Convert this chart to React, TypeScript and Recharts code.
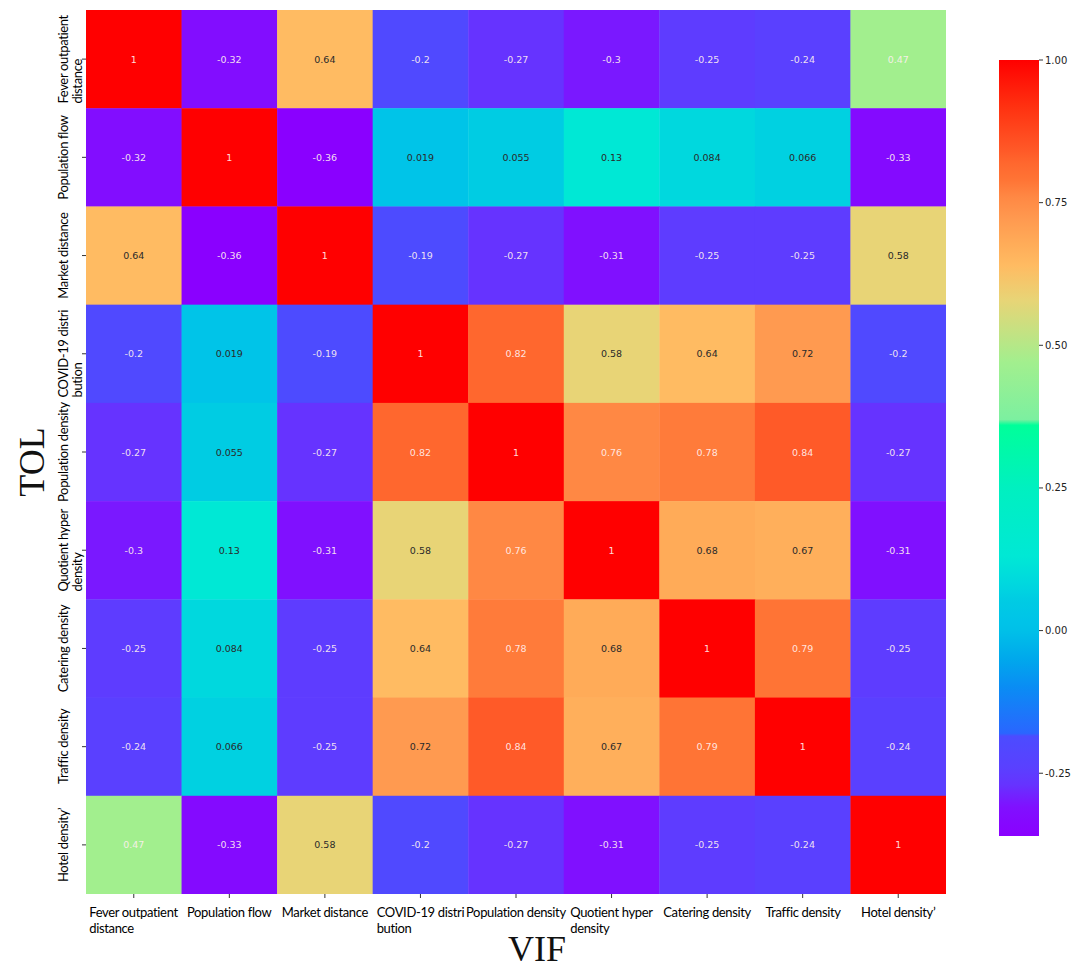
import React from 'react';
import { ScatterChart, Scatter, XAxis, YAxis, BarChart, Bar } from 'recharts';

// ---------- DATA ----------
const tickLines: string[][] = [
  ['Fever outpatient', 'distance'],
  ['Population flow'],
  ['Market distance'],
  ['COVID-19 distri', 'bution'],
  ['Population density'],
  ['Quotient hyper', 'density'],
  ['Catering density'],
  ['Traffic density'],
  ['Hotel density\u2019'],
];

const rowFever = [1, -0.32, 0.64, -0.2, -0.27, -0.3, -0.25, -0.24, 0.47];
const rowPopFlow = [-0.32, 1, -0.36, 0.019, 0.055, 0.13, 0.084, 0.066, -0.33];
const rowMarket = [0.64, -0.36, 1, -0.19, -0.27, -0.31, -0.25, -0.25, 0.58];
const rowCovid = [-0.2, 0.019, -0.19, 1, 0.82, 0.58, 0.64, 0.72, -0.2];
const rowPopDensity = [-0.27, 0.055, -0.27, 0.82, 1, 0.76, 0.78, 0.84, -0.27];
const rowQuotient = [-0.3, 0.13, -0.31, 0.58, 0.76, 1, 0.68, 0.67, -0.31];
const rowCatering = [-0.25, 0.084, -0.25, 0.64, 0.78, 0.68, 1, 0.79, -0.25];
const rowTraffic = [-0.24, 0.066, -0.25, 0.72, 0.84, 0.67, 0.79, 1, -0.24];
const rowHotel = [0.47, -0.33, 0.58, -0.2, -0.27, -0.31, -0.25, -0.24, 1];

const matrix = [rowFever, rowPopFlow, rowMarket, rowCovid, rowPopDensity, rowQuotient, rowCatering, rowTraffic, rowHotel];

const colorbarTicks = [1, 0.75, 0.5, 0.25, 0, -0.25];
const VMIN = -0.36;
const VMAX = 1;

// colormap stops (value, color)
const cmapStops: [number, string][] = [
  [-0.36, '#8a00ff'],
  [-0.31, '#8010ff'],
  [-0.3, '#7a18ff'],
  [-0.27, '#6633ff'],
  [-0.24, '#5a40ff'],
  [-0.185, '#4c4cff'],
  [-0.18, '#2a66ff'],
  [-0.1, '#0a8cf4'],
  [-0.05, '#00a8ec'],
  [0, '#00c0e8'],
  [0.019, '#00c4e8'],
  [0.055, '#00cce3'],
  [0.075, '#00d5e0'],
  [0.13, '#00e8d5'],
  [0.25, '#00f0c0'],
  [0.36, '#00ff9a'],
  [0.37, '#7cf0a0'],
  [0.47, '#a2ef8e'],
  [0.58, '#e8d476'],
  [0.64, '#ffbb62'],
  [0.68, '#ffab58'],
  [0.72, '#ff9a50'],
  [0.76, '#ff8844'],
  [0.79, '#ff7435'],
  [0.82, '#ff672e'],
  [0.84, '#ff5a28'],
  [0.92, '#ff3010'],
  [1, '#ff0000'],
];

// ---------- LAYOUT ----------
const N = tickLines.length;
const MAIN_W = 960;
const MAIN_H = 969;
const Y_AXIS_W = 80;
const X_AXIS_H = 75;
const MARGIN = { top: 10, right: 14, bottom: 0, left: 6 };
const PLOT_W = MAIN_W - MARGIN.left - MARGIN.right - Y_AXIS_W;
const PLOT_H = MAIN_H - MARGIN.top - MARGIN.bottom - X_AXIS_H;
const LABEL_SIZE = 13;
const LABEL_SPACING = -0.35;
const LABEL_FONT = `${LABEL_SIZE}px Lato`;
const centers = tickLines.map((_, i) => i + 0.5);

function hexToRgb(h: string) {
  const n = parseInt(h.slice(1), 16);
  return [(n >> 16) & 255, (n >> 8) & 255, n & 255];
}
function colorFor(v: number) {
  if (v <= cmapStops[0][0]) return cmapStops[0][1];
  for (let k = 1; k < cmapStops.length; k++) {
    const [v1, c1] = cmapStops[k];
    const [v0, c0] = cmapStops[k - 1];
    if (v <= v1) {
      const t = (v - v0) / (v1 - v0);
      const a = hexToRgb(c0);
      const b = hexToRgb(c1);
      const r = a.map((x, i) => Math.round(x + (b[i] - x) * t));
      return `rgb(${r[0]},${r[1]},${r[2]})`;
    }
  }
  return cmapStops[cmapStops.length - 1][1];
}
function textColor(v: number) {
  const light = v < 0 || v >= 0.74 || (v > 0.4 && v < 0.5);
  return light ? 'rgba(255,240,240,0.92)' : '#2a2a2a';
}

let ctx: CanvasRenderingContext2D | null = null;
function measure(text: string, font: string) {
  if (!ctx) ctx = document.createElement('canvas').getContext('2d');
  if (!ctx) return text.length * 6;
  ctx.font = font;
  return ctx.measureText(text).width + LABEL_SPACING * text.length;
}

const cells = matrix.flatMap((row, i) =>
  row.map((v, j) => ({ x: j + 0.5, y: i + 0.5, v, label: String(v) }))
);

const CellShape = (props: any) => {
  const { cx, cy, payload } = props;
  const w = PLOT_W / N;
  const h = PLOT_H / N;
  return (
    <g>
      <rect x={cx - w / 2} y={cy - h / 2} width={w + 0.4} height={h + 0.4} fill={colorFor(payload.v)} />
      <text
        x={cx}
        y={cy}
        textAnchor="middle"
        dominantBaseline="central"
        fontFamily="DejaVu Sans"
        fontSize={9.5}
        fill={textColor(payload.v)}
      >
        {payload.label}
      </text>
    </g>
  );
};

const XTick = (props: any) => {
  const { x, y, payload } = props;
  const idx = Math.round(payload.value - 0.5);
  const lines = tickLines[idx] || [];
  const w0 = Math.max(...lines.map((l) => measure(l, LABEL_FONT)));
  const start = x - w0 / 2;
  return (
    <g>
      {lines.map((l, k) => (
        <text
          key={k}
          x={start}
          y={y + 12 + k * 15.5}
          textAnchor="start"
          dominantBaseline="central"
          fontFamily="Lato"
          fontSize={LABEL_SIZE}
          letterSpacing={LABEL_SPACING}
          fill="#000"
        >
          {l}
        </text>
      ))}
    </g>
  );
};

const YTick = (props: any) => {
  const { x, y, payload } = props;
  const idx = Math.round(payload.value - 0.5);
  const lines = tickLines[idx] || [];
  const w0 = Math.max(...lines.map((l) => measure(l, LABEL_FONT)));
  const startY = y + w0 / 2;
  return (
    <g>
      {lines.map((l, k) => {
        const tx = x - 17 + k * 14;
        return (
          <text
            key={k}
            x={tx}
            y={startY}
            transform={`rotate(-90, ${tx}, ${startY})`}
            textAnchor="start"
            dominantBaseline="central"
            fontFamily="Lato"
            fontSize={LABEL_SIZE}
            letterSpacing={LABEL_SPACING}
            fill="#000"
          >
            {l}
          </text>
        );
      })}
    </g>
  );
};

const colorbarData = [{ name: 'cb', range: [VMIN, VMAX] }];

export default function App() {
  return (
    <div style={{ position: 'absolute', left: 0, top: 0, width: 1072, height: 969, background: '#fff' }}>
      <svg width={0} height={0} style={{ position: 'absolute' }}>
        <defs>
          <linearGradient id="cbGrad" x1="0" y1="0" x2="0" y2="1">
            {cmapStops.map(([v, c], k) => (
              <stop key={k} offset={(VMAX - v) / (VMAX - VMIN)} stopColor={c} />
            )).reverse()}
          </linearGradient>
        </defs>
      </svg>
      <div style={{ position: 'absolute', left: 0, top: 0 }}>
        <ScatterChart width={MAIN_W} height={MAIN_H} margin={MARGIN}>
          <XAxis
            type="number"
            dataKey="x"
            domain={[0, N]}
            ticks={centers}
            interval={0}
            height={X_AXIS_H}
            axisLine={false}
            tickSize={4}
            tickLine={{ stroke: '#333' }}
            tick={<XTick />}
            allowDataOverflow
            label={{
              content: (p: any) => {
                const vb = p.viewBox || {};
                return (
                  <text
                    x={vb.x + vb.width / 2 + 21}
                    y={vb.y + 67}
                    textAnchor="middle"
                    fontFamily="Liberation Serif"
                    fontSize={36}
                    fill="#111"
                  >
                    VIF
                  </text>
                );
              },
            }}
          />
          <YAxis
            type="number"
            dataKey="y"
            domain={[0, N]}
            reversed
            ticks={centers}
            interval={0}
            width={Y_AXIS_W}
            axisLine={false}
            tickSize={4}
            tickLine={{ stroke: '#333' }}
            tick={<YTick />}
            allowDataOverflow
            label={{
              content: (p: any) => {
                const vb = p.viewBox || {};
                const cy = vb.y + vb.height / 2 + 10;
                const cx = 32;
                return (
                  <text
                    x={cx}
                    y={cy}
                    transform={`rotate(-90, ${cx}, ${cy})`}
                    textAnchor="middle"
                    dominantBaseline="central"
                    fontFamily="Liberation Serif"
                    fontSize={36}
                    fill="#111"
                  >
                    TOL
                  </text>
                );
              },
            }}
          />
          <Scatter data={cells} shape={<CellShape />} isAnimationActive={false} />
        </ScatterChart>
      </div>
      <div style={{ position: 'absolute', left: 990, top: 0 }}>
        <BarChart
          width={82}
          height={969}
          data={colorbarData}
          margin={{ top: 60, bottom: 133, left: 9, right: 0 }}
          barCategoryGap={0}
        >
          <XAxis dataKey="name" hide />
          <YAxis
            orientation="right"
            type="number"
            domain={[VMIN, VMAX]}
            ticks={colorbarTicks}
            interval={0}
            width={33}
            axisLine={false}
            tickSize={4}
            tickLine={{ stroke: '#333' }}
            tickFormatter={(v: number) => v.toFixed(2)}
            tick={{ fontFamily: 'DejaVu Sans', fontSize: 10, fill: '#222' }}
            allowDataOverflow
          />
          <Bar dataKey="range" fill="url(#cbGrad)" isAnimationActive={false} />
        </BarChart>
      </div>
    </div>
  );
}
